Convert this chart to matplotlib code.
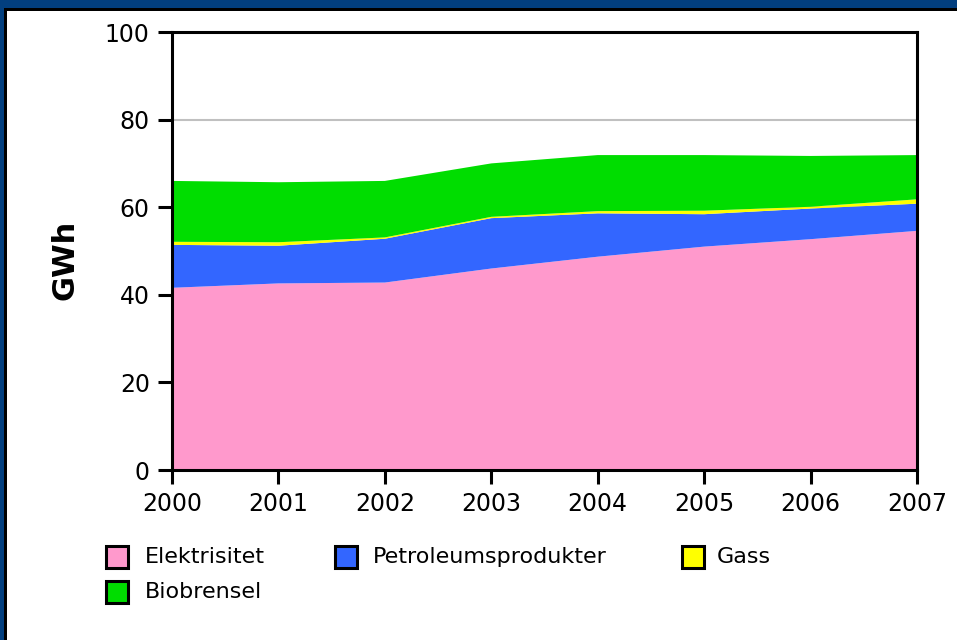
import matplotlib
matplotlib.use("Agg")
import matplotlib.pyplot as plt
from matplotlib.patches import Rectangle

# --- data
years = [2000, 2001, 2002, 2003, 2004, 2005, 2006, 2007]
elektrisitet = [41.6, 42.6, 42.8, 46.0, 48.7, 51.0, 52.7, 54.6]
petroleum = [9.8, 8.6, 10.0, 11.5, 9.9, 7.4, 7.0, 6.2]
gass = [0.7, 0.8, 0.3, 0.3, 0.5, 0.8, 0.4, 1.0]
biobrensel = [13.9, 13.7, 12.9, 12.2, 12.8, 12.7, 11.6, 10.1]

labels = ["Elektrisitet", "Petroleumsprodukter", "Gass", "Biobrensel"]
colors = ["#FF99CC", "#3366FF", "#FFFF00", "#00DD00"]
yticks = [0, 20, 40, 60, 80, 100]

W, H = 957, 640
fig = plt.figure(figsize=(W / 100, H / 100), dpi=100)
fig.patch.set_facecolor("white")


def px(x, y, w, h):
	# pixel box (top-left origin) -> figure fraction
	return (x / W, 1 - (y + h) / H, w / W, h / H)


def box(x, y, w, h, **kw):
	x0, y0, w0, h0 = px(x, y, w, h)
	fig.add_artist(Rectangle((x0, y0), w0, h0, transform=fig.transFigure, **kw))


# -- frame of the page
box(0, 0, W, 8, color="#023F7F", lw=0)
box(0, 0, 4, H, color="#023F7F", lw=0)
box(4, 8, W, 3, color="black", lw=0)
box(4, 8, 3, H, color="black", lw=0)

# -- axes
ax = fig.add_axes([172 / W, 1 - 470 / H, (917 - 172) / W, (470 - 32) / H])
ax.stackplot(years, elektrisitet, petroleum, gass, biobrensel, colors=colors,
	linewidth=0, zorder=2)

ax.set_xlim(years[0], years[-1])
ax.set_ylim(0, 100)
ax.set_xticks(years)
ax.set_yticks(yticks)
ax.grid(True, axis="y", color="#C0C0C0", linewidth=1.5, zorder=1)
ax.set_axisbelow(True)

for sp in ax.spines.values():
	sp.set_linewidth(2.2)
	sp.set_zorder(5)
ax.tick_params(axis="both", direction="out", length=10, width=2.2,
	labelsize=17, pad=6, color="black")
ax.set_ylabel("GWh", fontsize=22, fontweight="bold")
ax.yaxis.set_label_coords(-0.124, 0.479)

# -- legend (row-wise like the original)
swatch = 22
rows = [557, 592]
cols = [(106, 145), (335, 373), (682, 717)]
slots = [(0, 0), (0, 1), (0, 2), (1, 0)]
for lab, col, (r, c) in zip(labels, colors, slots):
	sx, tx = cols[c]
	cy = rows[r]
	box(sx, cy - swatch / 2, swatch, swatch, facecolor=col, edgecolor="black",
		linewidth=2.2)
	fig.text(tx / W, 1 - cy / H, lab, fontsize=16, va="center", ha="left")

fig.savefig("out.png", dpi=100)
